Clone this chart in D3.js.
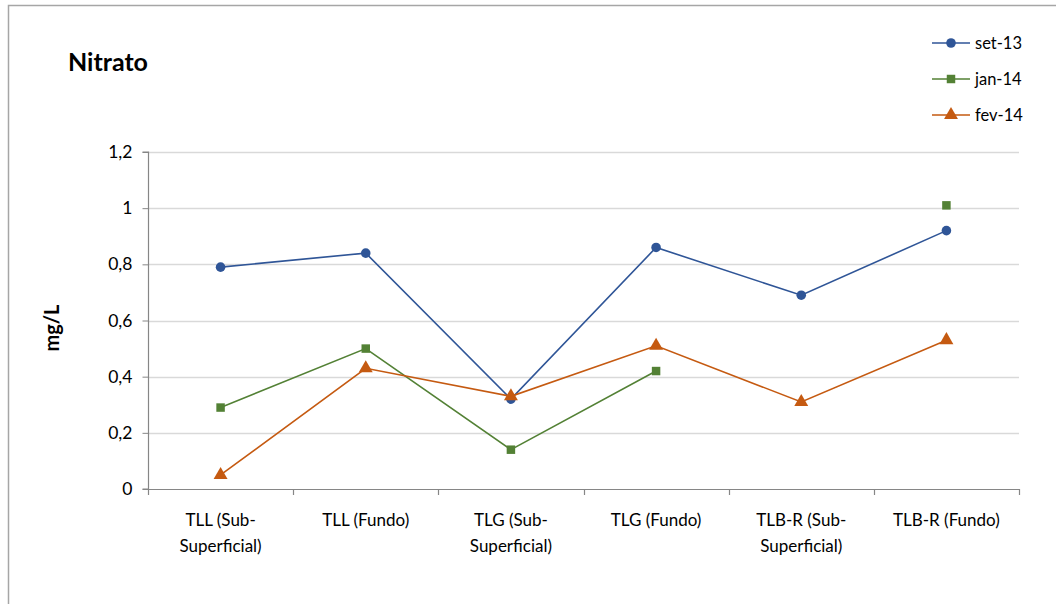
<!DOCTYPE html>
<html>
<head>
<meta charset="utf-8">
<script src="https://cdn.jsdelivr.net/npm/d3@7"></script>
<style>
  html, body { margin: 0; padding: 0; background: #fff; }
  svg { display: block; font-family: Lato, "Open Sans", sans-serif; }
</style>
</head>
<body>
<svg id="chart" width="1056" height="604"></svg>
<script>
// Nitrate concentrations (mg/L) per sampling station and campaign
const categories = [
  "TLL (Sub-Superficial)", "TLL (Fundo)", "TLG (Sub-Superficial)",
  "TLG (Fundo)", "TLB-R (Sub-Superficial)", "TLB-R (Fundo)"
];
const categoryLines = [
  ["TLL (Sub-", "Superficial)"], ["TLL (Fundo)"], ["TLG (Sub-", "Superficial)"],
  ["TLG (Fundo)"], ["TLB-R (Sub-", "Superficial)"], ["TLB-R (Fundo)"]
];
const seriesNames = ["set-13", "jan-14", "fev-14"];
const set13 = [0.79, 0.84, 0.32, 0.86, 0.69, 0.92];
const jan14 = [0.29, 0.50, 0.14, 0.42, null, 1.01];
const fev14 = [0.05, 0.43, 0.33, 0.51, 0.31, 0.53];
const yTicks = [0, 0.2, 0.4, 0.6, 0.8, 1, 1.2];

const series = [
  { name: seriesNames[0], values: set13, color: "#2F5597", symbol: d3.symbolCircle, size: 72 },
  { name: seriesNames[1], values: jan14, color: "#538135", symbol: d3.symbolSquare, size: 72 },
  { name: seriesNames[2], values: fev14, color: "#C55A11", symbol: d3.symbolTriangle, size: 84 }
];

const svg = d3.select("#chart");
const plot = { left: 148, right: 1019, top: 152, bottom: 489 };

// Outer chart frame (runs off the right and bottom edges)
svg.append("path")
  .attr("d", "M8.5,620 V5.5 H1070")
  .attr("fill", "none").attr("stroke", "#A6A6A6").attr("stroke-width", 1.5);

const x = d3.scaleBand().domain(categories).range([plot.left, plot.right]);
const y = d3.scaleLinear().domain([0, 1.2]).range([plot.bottom, plot.top]);

// Horizontal gridlines
svg.append("g").selectAll("line").data(yTicks.slice(1)).join("line")
  .attr("x1", plot.left).attr("x2", plot.right)
  .attr("y1", d => Math.round(y(d)) + 0.5).attr("y2", d => Math.round(y(d)) + 0.5)
  .attr("stroke", "#D9D9D9").attr("stroke-width", 1.5);

// Y axis
const fmt = d => d3.format("~g")(d).replace(".", ",");
const yAxis = svg.append("g")
  .attr("transform", `translate(${plot.left + 0.5},0)`)
  .call(d3.axisLeft(y).tickValues(yTicks).tickFormat(fmt).tickSize(6).tickPadding(10));
yAxis.select(".domain").attr("stroke", "#868686").attr("stroke-width", 1.2).attr("d", `M-6,${y(1.2)}H0V${y(0)}H-6`);
yAxis.selectAll(".tick line").attr("stroke", "#868686");
yAxis.selectAll(".tick text").attr("font-size", 17.5).attr("fill", "#000")
  .attr("font-family", "Lato, sans-serif");

// X axis line with boundary ticks
const xAxisG = svg.append("g");
xAxisG.append("line")
  .attr("x1", plot.left).attr("x2", plot.right)
  .attr("y1", plot.bottom + 0.5).attr("y2", plot.bottom + 0.5)
  .attr("stroke", "#868686").attr("stroke-width", 1.2);
const bounds = categories.map(c => x(c)).concat([x(categories[categories.length - 1]) + x.bandwidth()]);
xAxisG.selectAll("line.tk").data(bounds).join("line").attr("class", "tk")
  .attr("x1", d => Math.round(d) + 0.5).attr("x2", d => Math.round(d) + 0.5)
  .attr("y1", plot.bottom).attr("y2", plot.bottom + 6)
  .attr("stroke", "#868686").attr("stroke-width", 1.2);

// Category labels
const lab = svg.append("g").selectAll("text").data(categories).join("text")
  .attr("x", d => x(d) + x.bandwidth() / 2)
  .attr("y", 526)
  .attr("text-anchor", "middle").attr("font-size", 17).attr("fill", "#000");
lab.each(function(d, i) {
  d3.select(this).selectAll("tspan").data(categoryLines[i]).join("tspan")
    .attr("x", x(d) + x.bandwidth() / 2)
    .attr("dy", (t, j) => j === 0 ? 0 : 26)
    .text(t => t);
});

// Series lines and markers
const cx = (d, i) => x(categories[i]) + x.bandwidth() / 2;
series.forEach(s => {
  const line = d3.line()
    .defined(d => d !== null)
    .x((d, i) => cx(d, i))
    .y(d => y(d));
  svg.append("path").datum(s.values)
    .attr("d", line).attr("fill", "none")
    .attr("stroke", s.color).attr("stroke-width", 1.6);
  svg.append("g").selectAll("path")
    .data(s.values.map((v, i) => ({ v, i })).filter(d => d.v !== null))
    .join("path")
    .attr("transform", d => `translate(${cx(d.v, d.i)},${y(d.v)})`)
    .attr("d", d3.symbol().type(s.symbol).size(s.size))
    .attr("fill", s.color);
});

// Title
svg.append("text").attr("x", 68).attr("y", 71)
  .attr("font-size", 25).attr("font-weight", "bold").attr("fill", "#000")
  .text("Nitrato");

// Y axis title
svg.append("text")
  .attr("transform", "translate(59,328) rotate(-90)")
  .attr("text-anchor", "middle").attr("font-size", 20).attr("font-weight", "bold")
  .attr("fill", "#000").text("mg/L");

// Legend
const legend = svg.append("g").selectAll("g").data(series).join("g")
  .attr("transform", (d, i) => `translate(932,${43 + i * 36})`);
legend.append("line").attr("x1", 0).attr("x2", 38).attr("y1", 0).attr("y2", 0)
  .attr("stroke", d => d.color).attr("stroke-width", 1.6);
legend.append("path").attr("transform", "translate(19,0)")
  .attr("d", d => d3.symbol().type(d.symbol).size(d.size)())
  .attr("fill", d => d.color);
legend.append("text").attr("x", 43).attr("y", 6)
  .attr("font-size", 16.5).attr("fill", "#000").text(d => d.name);
</script>
</body>
</html>
